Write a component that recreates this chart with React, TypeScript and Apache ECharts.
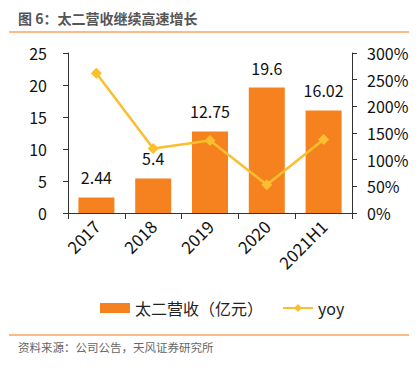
import React, { useEffect, useRef } from "react";
import * as echarts from "echarts";

const categories = ["2017", "2018", "2019", "2020", "2021H1"];
const revenue = [2.44, 5.4, 12.75, 19.6, 16.02];
const yoy = [262, 121, 136, 53, 138];
const revenueName = "太二营收（亿元）";
const yoyName = "yoy";
const titleText = "图 6：太二营收继续高速增长";
const sourceText = "资料来源：公司公告，天风证券研究所";

const FONT = "'Noto Sans CJK SC', 'Open Sans', sans-serif";

export default function App() {
  const ref = useRef<HTMLDivElement>(null);
  useEffect(() => {
    document.body.style.margin = "0";
    const chart = echarts.init(ref.current!, undefined, { renderer: "svg" });
    chart.setOption({
      animation: false,
      textStyle: { fontFamily: FONT },
      grid: { left: 68, right: 67, top: 53, bottom: 157 },
      graphic: [
        {
          type: "text",
          left: 18,
          top: 11,
          style: { text: titleText, fontSize: 14, fontWeight: "bold", fill: "#555", fontFamily: FONT },
        },
        {
          type: "line",
          shape: { x1: 9, y1: 32, x2: 409, y2: 32 },
          style: { stroke: "#F8A65E", lineWidth: 1.5 },
        },
        {
          type: "line",
          shape: { x1: 9, y1: 335, x2: 409, y2: 335 },
          style: { stroke: "#F8A65E", lineWidth: 1.5 },
        },
        {
          type: "text",
          left: 18,
          top: 341,
          style: { text: sourceText, fontSize: 11.5, fill: "#666", fontFamily: FONT },
        },
      ],
      legend: {
        top: 295,
        left: 95,
        itemGap: 19,
        itemWidth: 30,
        itemHeight: 10,
        textStyle: { fontSize: 16, color: "#222", fontFamily: FONT },
        data: [
          { name: revenueName, icon: "rect" },
          { name: yoyName },
        ],
      },
      xAxis: {
        type: "category",
        data: categories,
        axisLine: { lineStyle: { color: "#333" } },
        axisTick: { show: true, alignWithLabel: false, length: 6, lineStyle: { color: "#333" } },
        axisLabel: { rotate: 45, fontSize: 17, color: "#111", margin: 10, interval: 0 },
      },
      yAxis: [
        {
          type: "value",
          min: 0,
          max: 25,
          interval: 5,
          splitLine: { show: false },
          axisLine: { show: true, lineStyle: { color: "#333" } },
          axisTick: { show: true, length: 5, lineStyle: { color: "#333" } },
          axisLabel: { fontSize: 16, color: "#111", margin: 21 },
        },
        {
          type: "value",
          min: 0,
          max: 300,
          interval: 50,
          splitLine: { show: false },
          axisLine: { show: true, lineStyle: { color: "#333" } },
          axisTick: { show: true, length: 5, lineStyle: { color: "#333" } },
          axisLabel: { fontSize: 16, color: "#111", margin: 15, formatter: "{value}%" },
        },
      ],
      series: [
        {
          name: revenueName,
          type: "bar",
          data: revenue,
          barWidth: 36,
          itemStyle: { color: "#F5821F" },
          label: { show: true, position: "top", distance: 12, fontSize: 16, color: "#111" },
        },
        {
          name: yoyName,
          type: "line",
          yAxisIndex: 1,
          data: yoy,
          symbol: "diamond",
          symbolSize: 11,
          lineStyle: { color: "#FBBE2E", width: 2.5 },
          itemStyle: { color: "#FBBE2E" },
        },
      ],
    });
    return () => chart.dispose();
  }, []);
  return <div ref={ref} style={{ width: 419, height: 370 }} />;
}
